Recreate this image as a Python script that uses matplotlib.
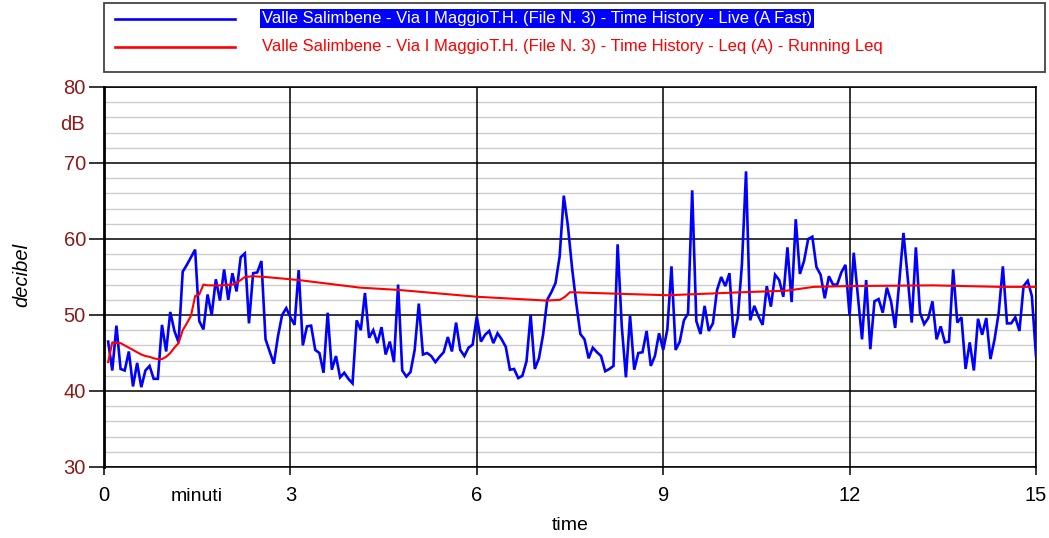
import numpy as np
import matplotlib

matplotlib.use("Agg")
import matplotlib.pyplot as plt
from matplotlib import font_manager
from matplotlib.patches import Rectangle
from matplotlib.lines import Line2D
from matplotlib.transforms import blended_transform_factory

# Live (A Fast) level, one sample every 4 s over 15 minutes (dB)
SAMPLE_S = 4
live_db = [
    46.5, 42.7, 48.6, 42.9, 42.7, 45.2, 40.6, 43.7, 40.5, 42.7,
    43.3, 41.6, 41.6, 48.7, 45.2, 50.4, 47.9, 46.4, 55.7, 56.6,
    57.6, 58.6, 49.2, 48.1, 52.7, 50.0, 54.7, 51.9, 56.0, 52.0,
    55.5, 53.1, 57.6, 58.1, 48.9, 55.5, 55.6, 57.1, 46.8, 45.2,
    43.6, 47.2, 50.0, 50.9, 49.7, 48.7, 55.9, 46.0, 48.5, 48.6,
    45.4, 45.0, 42.4, 50.3, 42.8, 44.6, 41.8, 42.4, 41.6, 41.0,
    49.3, 48.0, 52.9, 47.0, 48.0, 46.3, 48.4, 44.8, 46.5, 43.8,
    54.0, 42.7, 41.9, 42.5, 45.4, 51.5, 44.8, 45.0, 44.6, 43.8,
    44.5, 45.1, 47.1, 45.2, 49.0, 45.4, 44.6, 45.7, 46.1, 49.8,
    46.5, 47.4, 47.9, 46.3, 47.6, 46.8, 45.8, 42.8, 42.9, 41.7,
    42.0, 43.9, 50.0, 42.9, 44.3, 47.4, 52.0, 53.0, 54.2, 57.7,
    65.7, 61.7, 56.2, 51.6, 47.5, 46.8, 44.3, 45.7, 45.1, 44.6,
    42.6, 42.9, 43.3, 59.3, 48.5, 41.8, 49.9, 42.8, 45.0, 45.1,
    47.9, 43.3, 44.6, 47.6, 45.4, 48.1, 56.4, 45.4, 46.5, 49.3,
    50.2, 66.4, 49.2, 47.5, 51.2, 47.9, 48.9, 53.3, 55.0, 53.8,
    55.5, 47.0, 49.6, 56.6, 68.9, 49.3, 51.2, 49.8, 48.7, 53.8,
    51.1, 55.3, 54.6, 52.4, 58.9, 51.7, 62.6, 55.4, 57.1, 60.0,
    60.3, 56.3, 55.3, 52.2, 55.1, 54.0, 54.0, 55.6, 56.6, 49.9,
    58.2, 52.5, 46.8, 54.6, 45.5, 51.8, 52.1, 50.3, 53.6, 51.8,
    48.3, 54.4, 60.8, 55.1, 49.0, 58.9, 50.3, 48.8, 49.6, 51.8,
    46.8, 48.5, 46.4, 46.5, 56.0, 49.0, 49.7, 42.9, 46.4, 42.7,
    49.5, 47.4, 49.6, 44.2, 46.8, 50.3, 56.4, 48.9, 48.9, 49.7,
    47.9, 53.8, 54.5, 52.5, 44.6,
]

# Running Leq (A), read at selected times (minutes, dB)
leq_min = [0.067, 0.133, 0.2, 0.267, 0.333, 0.4, 0.467, 0.533, 0.6, 0.667,
           0.733, 0.8, 0.867, 0.933, 1.0, 1.067, 1.133, 1.2, 1.267, 1.333,
           1.4, 1.467, 1.533, 1.6, 1.667, 1.867, 2.067, 2.133, 2.2, 2.267,
           2.4, 2.6, 2.867, 3.133, 4.12, 4.74, 6.0, 7.12, 7.34, 7.42,
           7.5, 8.25, 9.08, 10.29, 10.99, 11.42, 11.95, 13.35, 14.42, 15.0]
leq_db = [43.8, 46.4, 46.3, 46.3, 46.0, 45.7, 45.4, 45.1, 44.8, 44.6,
          44.5, 44.3, 44.2, 44.2, 44.5, 45.0, 45.7, 46.3, 48.0, 48.9,
          49.9, 52.5, 52.7, 54.0, 53.9, 53.9, 54.0, 54.2, 54.6, 55.0,
          55.1, 55.0, 54.8, 54.6, 53.6, 53.3, 52.4, 51.9, 52.0, 52.4,
          53.0, 52.8, 52.6, 53.0, 53.2, 53.7, 53.8, 53.9, 53.7, 53.7]

x_ticks = [0, 3, 6, 9, 12, 15]
y_ticks = [30, 40, 50, 60, 70, 80]
legend_labels = [
    "Valle Salimbene - Via I MaggioT.H. (File N. 3) - Time History - Live (A Fast)",
    "Valle Salimbene - Via I MaggioT.H. (File N. 3) - Time History - Leq (A) - Running Leq",
]

DARK_RED = "#8b1a1a"
names = {f.name for f in font_manager.fontManager.ttflist}
NARROW = "Liberation Sans Narrow" if "Liberation Sans Narrow" in names else "Liberation Sans"
plt.rcParams["font.family"] = ["Liberation Sans", "DejaVu Sans"]

fig = plt.figure(figsize=(10.49, 5.38), dpi=100)
W, H = 1049, 538
ax = fig.add_axes([104 / W, 1 - 467 / H, (1036 - 104) / W, (467 - 87) / H])

t_min = np.arange(1, len(live_db) + 1) * SAMPLE_S / 60.0
ax.plot(t_min, live_db, color="#0000ff", lw=1.9, zorder=4, solid_joinstyle="miter")
ax.plot(leq_min, leq_db, color="#ff0000", lw=1.5, zorder=5)

ax.set_xlim(0, 15)
ax.set_ylim(30, 80)

# grid: light minor lines every 2 dB, black major lines
for v in np.arange(32, 80, 2):
    if v % 10:
        ax.axhline(v, color="#cccccc", lw=1.0, zorder=1)
for v in y_ticks:
    ax.axhline(v, color="black", lw=1.1, zorder=2)
for v in x_ticks:
    ax.axvline(v, color="black", lw=1.1, zorder=2)

ax.set_yticks(y_ticks)
ax.set_yticklabels([str(v) for v in y_ticks], color=DARK_RED, fontsize=14.5)
ax.set_xticks(x_ticks)
ax.set_xticklabels([str(v) for v in x_ticks], fontsize=14.5)
ax.tick_params(axis="y", length=11, width=1.1, pad=2)
ax.tick_params(axis="x", length=6, width=1.1, pad=8)
for s in ax.spines.values():
    s.set_linewidth(1.1)
ax.spines["left"].set_linewidth(2.0)

ytr = blended_transform_factory(ax.transAxes, ax.transData)
ax.text(-0.021, 75, "dB", transform=ytr, ha="right", va="center",
        color=DARK_RED, fontsize=14.5)
xtr = blended_transform_factory(ax.transData, ax.transAxes)
ax.text(1.5, -0.077, "minuti", transform=xtr, ha="center", va="center", fontsize=14)
ax.text(7.5, -0.153, "time", transform=xtr, ha="center", va="center", fontsize=14)
fig.text(22 / W, 1 - 275 / H, "decibel", rotation=90, style="italic",
         ha="center", va="center", fontsize=14.5)

# legend box drawn in figure pixels
fig.patches.append(Rectangle((104 / W, 1 - 72 / H), (1045 - 104) / W, 69 / H,
                             transform=fig.transFigure, fill=False,
                             edgecolor="#444444", lw=1.3))
for y, col in [(19, "#0000ff"), (47, "#ff0000")]:
    fig.add_artist(Line2D([115 / W, 235 / W], [1 - y / H] * 2,
                          transform=fig.transFigure, color=col, lw=1.9))
fig.text(262 / W, 1 - 18.5 / H, legend_labels[0], family=NARROW, fontsize=12,
         color="white", va="center", ha="left",
         bbox=dict(facecolor="#0000ff", edgecolor="none", pad=1.5))
fig.text(262 / W, 1 - 47 / H, legend_labels[1], family=NARROW, fontsize=12,
         color="#ff0000", va="center", ha="left")

fig.savefig("out.png", dpi=100)
